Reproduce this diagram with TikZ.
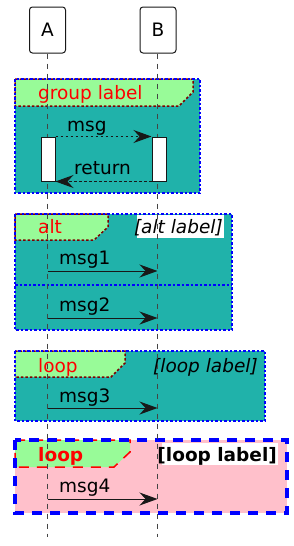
\documentclass[tikz,border=0pt]{standalone}
\usepackage{fontspec}
\setmainfont{DejaVu Sans}
\usepackage{tikz}
\usetikzlibrary{arrows.meta, calc}

\definecolor{seateal}{HTML}{20B2AA}
\definecolor{tabgreen}{HTML}{98FB98}
\definecolor{tabmaroon}{HTML}{800000}
\definecolor{lightpink}{HTML}{FFC0CB}
\definecolor{lifegray}{HTML}{444444}
\definecolor{inkblack}{HTML}{181818}

\tikzset{
  part/.style={draw=inkblack, line width=1pt, rounded corners=3pt, fill=white,
    minimum width=36pt, minimum height=46pt, inner sep=0pt},
  lifeline/.style={draw=lifegray, line width=0.7pt, dash pattern=on 5pt off 5pt},
  actbox/.style={draw=inkblack, line width=1pt, fill=white, inner sep=0pt,
    minimum width=14pt, minimum height=44pt},
  msgline/.style={draw=inkblack, line width=1pt,
    -{Stealth[length=18pt, width=13pt, inset=6pt]}},
  retline/.style={msgline, dash pattern=on 2.5pt off 2.5pt},
  grpborder/.style={draw=blue, line width=1.5pt, dash pattern=on 2.5pt off 2pt},
  tabborder/.style={draw=tabmaroon, line width=1.5pt, dash pattern=on 2.5pt off 2pt},
  txt/.style={inner sep=0pt, anchor=base west, font=\fontsize{18.5}{20}\selectfont},
  rtxt/.style={txt, anchor=base east},
  grptxt/.style={txt, text=red}
}

\begin{document}
\begin{tikzpicture}[x=1pt, y=-1pt]
\useasboundingbox (0,0) rectangle (293,546);

%---group---
\fill[seateal] (15,79) rectangle (200,193);
\filldraw[fill=tabgreen, tabborder] (15,79) -- (193,79) -- (193,92) -- (179,106) -- (15,106) -- cycle;
\draw[grpborder] (15,79) rectangle (200,193);
\node[grptxt] (glabel) at (38,99) {group label};

%---alt---
\fill[seateal] (15,214) rectangle (232,330);
\filldraw[fill=tabgreen, tabborder] (15,214) -- (108,214) -- (108,227) -- (94,240) -- (15,240) -- cycle;
\fill[white] (137,215) rectangle (224,238);
\draw[grpborder] (15,214) rectangle (232,330);
\draw[grpborder] (15,285) -- (232,285);
\node[grptxt] (altlabel) at (38,233) {alt};
\node[rtxt] (altcond) at (223,233) {\itshape [alt label]};

%---loop---
\fill[seateal] (15,351) rectangle (265,421);
\filldraw[fill=tabgreen, tabborder] (15,351) -- (125,351) -- (125,363) -- (111,377) -- (15,377) -- cycle;
\draw[grpborder] (15,351) rectangle (265,421);
\node[grptxt] (looplabel) at (38,372) {loop};
\node[rtxt] (loopcond) at (258,372) {\itshape [loop label]};

%---loop, bold---
\fill[lightpink] (15,440) rectangle (287,513);
\filldraw[fill=tabgreen, draw=red, line width=1.5pt, dash pattern=on 10pt off 8pt]
  (15,440) -- (130,440) -- (130,452) -- (114,467) -- (15,467) -- cycle;
\fill[white] (162,443) rectangle (278,465);
\draw[draw=blue, line width=4pt, dash pattern=on 10pt off 8pt] (15,440) rectangle (287,513);
\node[grptxt] (boldlabel) at (38,461) {\bfseries loop};
\node[rtxt] (boldcond) at (277,461) {\bfseries [loop label]};

%---participants---
\node[part] (A) at (47.5,30) {\fontsize{18.5}{20}\selectfont A};
\node[part] (B) at (158,30) {\fontsize{18.5}{20}\selectfont B};
\coordinate (Aend) at (47.5,537);
\coordinate (Bend) at (157.5,537);
\draw[lifeline] (A.south) -- (Aend);
\draw[lifeline] (B.south -| Bend) -- (Bend);

%---messages---
\node[actbox] (actA) at (48,159) {};
\node[actbox] (actB) at (159,159) {};
\draw[retline] (actA.north east) -- (actB.north west);
\node[txt] (msg) at (67,131) {msg};
\draw[retline] (actB.south west) -- (actA.south east);
\node[txt] (ret) at (74,174) {return};

\draw[msgline] (Aend |- 0,271) -- (Bend |- 0,271);
\node[txt] (msg1) at (59,264) {msg1};
\draw[msgline] (Aend |- 0,318) -- (Bend |- 0,318);
\node[txt] (msg2) at (59,311) {msg2};
\draw[msgline] (Aend |- 0,408) -- (Bend |- 0,408);
\node[txt] (msg3) at (59,402) {msg3};
\draw[msgline] (Aend |- 0,499) -- (Bend |- 0,499);
\node[txt] (msg4) at (59,492) {msg4};

\end{tikzpicture}
\end{document}
